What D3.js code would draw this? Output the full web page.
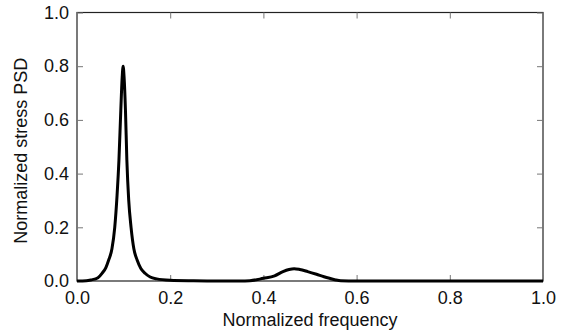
<!DOCTYPE html>
<html>
<head>
<meta charset="utf-8">
<script src="https://cdn.jsdelivr.net/npm/d3@7"></script>
<style>
  html, body { margin: 0; padding: 0; background: #fff; }
  svg { display: block; font-family: "Liberation Sans", Arial, sans-serif; }
</style>
</head>
<body>
<svg id="chart" width="568" height="336"></svg>
<script>
const freq = [0.0, 0.02, 0.03, 0.045, 0.054, 0.062, 0.068, 0.075, 0.081, 0.086, 0.090, 0.094, 0.097, 0.099,
  0.101, 0.104, 0.107, 0.111, 0.116, 0.122, 0.129, 0.137, 0.146, 0.157, 0.171, 0.2, 0.25, 0.3, 0.35, 0.371,
  0.40, 0.424, 0.442, 0.455, 0.466, 0.478, 0.495, 0.514, 0.530, 0.542, 0.555, 0.566, 0.6, 0.7, 0.8, 0.9, 1.0];
const psd = [0.0, 0.001, 0.004, 0.012, 0.029, 0.050, 0.078, 0.12, 0.20, 0.32, 0.45, 0.636, 0.76, 0.80,
  0.76, 0.636, 0.45, 0.30, 0.20, 0.12, 0.078, 0.047, 0.029, 0.015, 0.008, 0.003, 0.001, 0.0, 0.0, 0.001,
  0.01, 0.019, 0.035, 0.043, 0.046, 0.043, 0.035, 0.025, 0.016, 0.01, 0.004, 0.001, 0.0, 0.0, 0.0, 0.0, 0.0];
const xTicks = [0.0, 0.2, 0.4, 0.6, 0.8, 1.0];
const yTicks = [0.0, 0.2, 0.4, 0.6, 0.8, 1.0];

const svg = d3.select('#chart');
const m = { left: 77, right: 543, top: 12.5, bottom: 281 };

const x = d3.scaleLinear().domain([0, 1]).range([m.left, m.right]);
const y = d3.scaleLinear().domain([0, 1]).range([m.bottom, m.top]);
const fmt = d3.format('.1f');
const tickLen = 6;
const fs = 18;

// frame
svg.append('rect')
  .attr('x', m.left).attr('y', m.top)
  .attr('width', m.right - m.left).attr('height', m.bottom - m.top)
  .attr('fill', 'none').attr('stroke', '#222').attr('stroke-width', 1.2);

// bottom axis (inward ticks)
const xb = svg.append('g')
  .attr('transform', `translate(0,${m.bottom})`)
  .call(d3.axisBottom(x).tickValues(xTicks).tickFormat(fmt).tickSizeInner(-tickLen).tickSizeOuter(0).tickPadding(10));
xb.select('.domain').remove();
xb.selectAll('.tick line').attr('stroke', '#777');
xb.selectAll('.tick text').attr('font-size', fs).attr('fill', '#111');

// top ticks
const xt = svg.append('g')
  .attr('transform', `translate(0,${m.top})`)
  .call(d3.axisTop(x).tickValues(xTicks).tickFormat('').tickSizeInner(-tickLen).tickSizeOuter(0));
xt.select('.domain').remove();
xt.selectAll('.tick line').attr('stroke', '#777');

// left axis
const yl = svg.append('g')
  .attr('transform', `translate(${m.left},0)`)
  .call(d3.axisLeft(y).tickValues(yTicks).tickFormat(fmt).tickSizeInner(-tickLen).tickSizeOuter(0).tickPadding(8));
yl.select('.domain').remove();
yl.selectAll('.tick line').attr('stroke', '#777');
yl.selectAll('.tick text').attr('font-size', fs).attr('fill', '#111');

// right ticks
const yr = svg.append('g')
  .attr('transform', `translate(${m.right},0)`)
  .call(d3.axisRight(y).tickValues(yTicks).tickFormat('').tickSizeInner(-tickLen).tickSizeOuter(0));
yr.select('.domain').remove();
yr.selectAll('.tick line').attr('stroke', '#777');

// curve
const line = d3.line()
  .x((d, i) => x(freq[i]))
  .y(d => y(d))
  .curve(d3.curveMonotoneX);

svg.append('path')
  .datum(psd)
  .attr('d', line)
  .attr('fill', 'none')
  .attr('stroke', '#000')
  .attr('stroke-width', 3)
  .attr('stroke-linejoin', 'round');

// axis titles
svg.append('text')
  .attr('x', (m.left + m.right) / 2)
  .attr('y', 326)
  .attr('text-anchor', 'middle')
  .attr('font-size', fs)
  .attr('fill', '#111')
  .text('Normalized frequency');

svg.append('text')
  .attr('transform', `translate(27,${(m.top + m.bottom) / 2 + 4}) rotate(-90)`)
  .attr('text-anchor', 'middle')
  .attr('font-size', fs)
  .attr('fill', '#111')
  .text('Normalized stress PSD');
</script>
</body>
</html>
